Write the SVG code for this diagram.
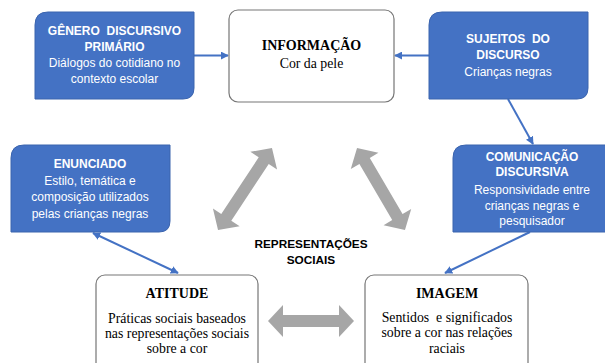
<svg xmlns="http://www.w3.org/2000/svg" width="605" height="363" viewBox="0 0 605 363">
<defs>
<style>
.blue{fill:#4472C4;stroke:#3B64AE;stroke-width:1}
.white{fill:#FFFFFF;stroke:#767676;stroke-width:1.2}
.tw{font-family:"Liberation Sans",Arial,sans-serif;font-size:12px;fill:#FFFFFF;text-anchor:middle}
.twb{font-family:"Liberation Sans",Arial,sans-serif;font-size:12px;fill:#FFFFFF;text-anchor:middle;font-weight:bold;white-space:pre}
.ts{font-family:"Liberation Serif","Times New Roman",serif;font-size:13.8px;fill:#000000;text-anchor:middle;white-space:pre}
.tsb{font-family:"Liberation Serif","Times New Roman",serif;font-size:14px;fill:#000000;text-anchor:middle;font-weight:bold}
.tc{font-family:"Liberation Sans",Arial,sans-serif;font-size:11.8px;fill:#000000;text-anchor:middle;font-weight:bold}
.conn{stroke:#4472C4;stroke-width:2;fill:none}
.gray{fill:#A6A6A6}
</style>
<marker id="ah" viewBox="0 0 10 10" refX="9" refY="5" markerWidth="8" markerHeight="8" markerUnits="userSpaceOnUse" orient="auto-start-reverse">
<path d="M0,0 L10,5 L0,10 z" fill="#4472C4"/>
</marker>
</defs>

<g id="connectors">
<line class="conn" x1="194" y1="55.5" x2="228" y2="55.5" marker-end="url(#ah)"/>
<line class="conn" x1="429" y1="55.5" x2="395" y2="55.5" marker-end="url(#ah)"/>
<line class="conn" x1="508" y1="99" x2="533" y2="144" marker-end="url(#ah)"/>
<line class="conn" x1="530" y1="232" x2="445" y2="273" marker-end="url(#ah)"/>
<line class="conn" x1="93" y1="233" x2="178" y2="273" marker-start="url(#ah)" marker-end="url(#ah)"/>
<polygon class="gray" transform="translate(311,321)" points="-43,0 -28,-16 -28,-6 28,-6 28,-16 43,0 28,16 28,6 -28,6 -28,16"/>
<polygon class="gray" transform="translate(245,189) rotate(-56.6)" points="-49,0 -34,-16 -34,-6 34,-6 34,-16 49,0 34,16 34,6 -34,6 -34,16"/>
<polygon class="gray" transform="translate(381,189) rotate(59.7)" points="-47.5,0 -32.5,-16 -32.5,-6 32.5,-6 32.5,-16 47.5,0 32.5,16 32.5,6 -32.5,6 -32.5,16"/>
</g>

<g id="genero">
<path class="blue" d="M48,12 H194 V88 Q194,99 183,99 H35 V25 Q35,12 48,12 Z"/>
<text class="twb" x="114.5" y="35">GÊNERO  DISCURSIVO</text>
<text class="twb" x="114.5" y="51">PRIMÁRIO</text>
<text class="tw" x="114.5" y="67">Diálogos do cotidiano no</text>
<text class="tw" x="114.5" y="83">contexto escolar</text>
</g>

<g id="informacao">
<rect class="white" x="229" y="10" width="165" height="92" rx="9" ry="9"/>
<text class="tsb" x="311.5" y="50">INFORMAÇÃO</text>
<text class="ts" x="311.5" y="68">Cor da pele</text>
</g>

<g id="sujeitos">
<path class="blue" d="M442,12 H588 V88 Q588,99 577,99 H429 V25 Q429,12 442,12 Z"/>
<text class="twb" x="508" y="43">SUJEITOS  DO</text>
<text class="twb" x="508" y="59">DISCURSO</text>
<text class="tw" x="508" y="76">Crianças negras</text>
</g>

<g id="enunciado">
<path class="blue" d="M24,145 H170 V221 Q170,232 159,232 H11 V158 Q11,145 24,145 Z"/>
<text class="twb" x="90" y="168">ENUNCIADO</text>
<text class="tw" x="90" y="185">Estilo, temática e</text>
<text class="tw" x="90" y="201">composição utilizados</text>
<text class="tw" x="90" y="218">pelas crianças negras</text>
</g>

<g id="comunicacao">
<path class="blue" d="M466,145 H612 V232 H453 V158 Q453,145 466,145 Z"/>
<text class="twb" x="532" y="161">COMUNICAÇÃO</text>
<text class="twb" x="532" y="176">DISCURSIVA</text>
<text class="tw" x="532" y="194">Responsividade entre</text>
<text class="tw" x="532" y="210">crianças negras e</text>
<text class="tw" x="532" y="225">pesquisador</text>
</g>

<g id="representacoes">
<text class="tc" x="311" y="248">REPRESENTAÇÕES</text>
<text class="tc" x="311" y="264">SOCIAIS</text>
</g>

<g id="atitude">
<rect class="white" x="96" y="275" width="162" height="100" rx="9" ry="9"/>
<text class="tsb" x="177" y="298">ATITUDE</text>
<text class="ts" x="177" y="323">Práticas sociais baseados</text>
<text class="ts" x="177" y="338">nas representações sociais</text>
<text class="ts" x="177" y="353">sobre a cor</text>
</g>

<g id="imagem">
<rect class="white" x="365" y="275" width="163" height="100" rx="9" ry="9"/>
<text class="tsb" x="447" y="298">IMAGEM</text>
<text class="ts" x="447" y="322">Sentidos  e significados</text>
<text class="ts" x="447" y="337">sobre a cor nas relações</text>
<text class="ts" x="447" y="353">raciais</text>
</g>
</svg>
